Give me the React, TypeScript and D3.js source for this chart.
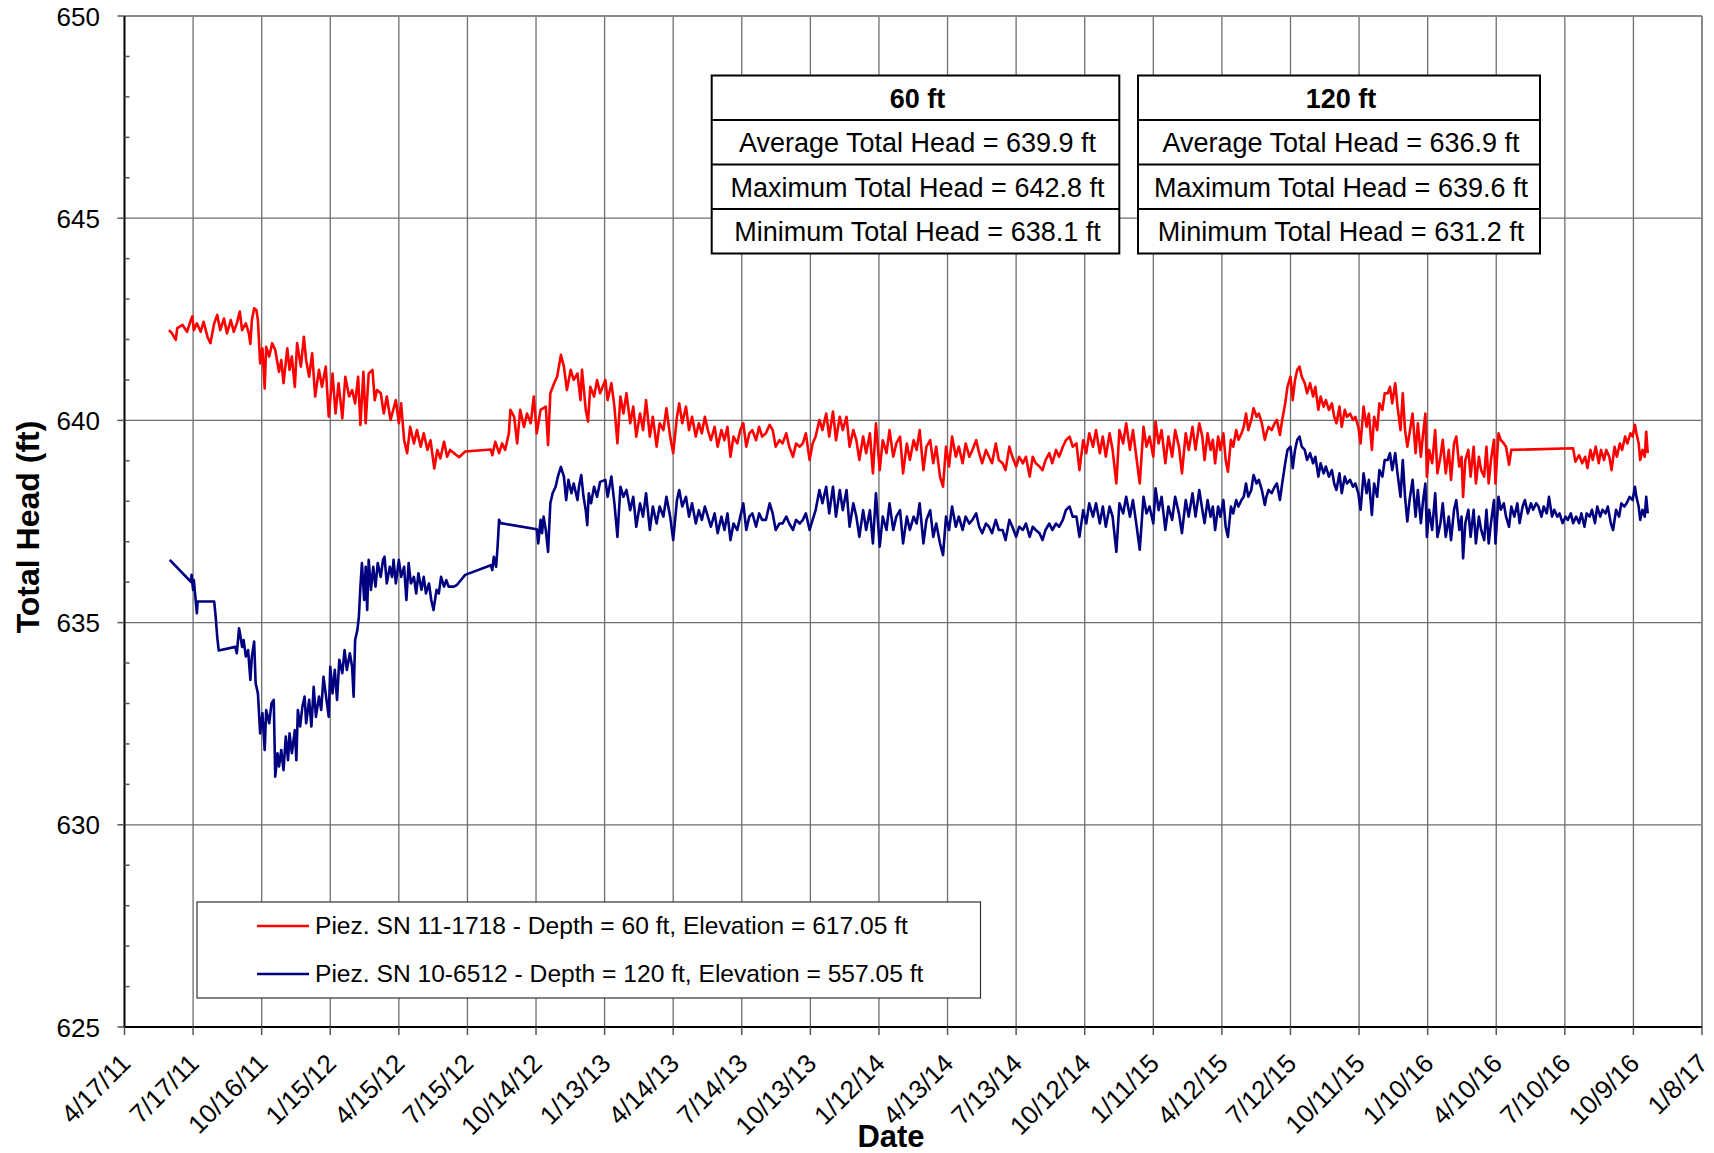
import React from "react";
import * as d3 from "d3";

// ---------- DATA ----------
// Day offsets are counted from 4/17/11 (the first x-axis tick).
const START_DATE = "4/17/11";

const X_TICK_LABELS = ["4/17/11","7/17/11","10/16/11","1/15/12","4/15/12","7/15/12","10/14/12","1/13/13","4/14/13","7/14/13","10/13/13","1/12/14","4/13/14","7/13/14","10/12/14","1/11/15","4/12/15","7/12/15","10/11/15","1/10/16","4/10/16","7/10/16","10/9/16","1/8/17"];
const Y_TICKS = [625, 630, 635, 640, 645, 650];
const Y_DOMAIN: [number, number] = [625, 650];

// Piez. SN 11-1718 (60 ft): [day offset, total head ft]
const piez60: [number, number][] = [
[59,642.23],[63,642.15],[68,641.99],[70,642.28],[77,642.36],[83,642.19],[88,642.48],[90,642.57],[92,642.23],[96,642.40],[101,642.19],[105,642.44],[110,642.07],[114,641.91],[119,642.40],[123,642.61],[127,642.23],[132,642.52],[136,642.15],[141,642.48],[145,642.19],[149,642.40],[153,642.69],[156,642.23],[161,642.40],[165,642.15],[167,641.89],[169,642.48],[172,642.77],[175,642.73],[177,642.48],[180,641.41],[183,641.78],[186,640.79],[188,641.82],[192,641.58],[196,641.91],[200,641.74],[205,641.20],[208,641.49],[211,640.92],[216,641.78],[219,641.25],[222,641.58],[226,640.83],[229,641.91],[234,641.33],[238,642.07],[241,641.49],[245,641.08],[249,641.66],[253,640.59],[258,641.25],[262,640.83],[267,641.33],[271,640.09],[276,641.16],[280,640.17],[284,640.92],[289,640.05],[293,641.08],[298,640.59],[302,640.75],[306,640.42],[310,641.08],[313,639.89],[317,641.20],[320,639.93],[324,641.16],[329,641.25],[332,640.50],[335,640.75],[340,640.67],[344,640.17],[348,640.59],[353,640.01],[360,640.50],[364,639.93],[367,640.42],[371,639.51],[375,639.19],[379,639.84],[384,639.43],[388,639.76],[393,639.35],[397,639.68],[402,639.27],[406,639.51],[411,638.81],[415,639.27],[419,639.06],[424,639.47],[428,639.10],[432,639.27],[444,639.09],[452,639.23],[486,639.28],[488,639.14],[492,639.47],[497,639.19],[501,639.43],[505,639.27],[510,639.68],[512,640.26],[517,640.09],[521,639.43],[525,640.26],[530,639.84],[534,640.17],[539,639.93],[543,640.59],[547,639.68],[552,640.26],[559,640.34],[562,639.39],[565,640.67],[570,640.92],[574,641.08],[579,641.62],[583,641.33],[587,640.75],[592,641.25],[596,641.00],[601,641.16],[605,640.50],[607,641.25],[612,640.26],[615,639.97],[618,640.83],[623,640.59],[627,641.00],[631,640.67],
[638,641.00],[641,640.50],[646,640.92],[650,640.34],[654,639.43],[658,640.59],[662,640.17],[666,640.67],[671,639.93],[675,640.34],[679,639.60],[684,640.17],[688,639.76],[692,640.50],[697,639.60],[701,640.09],[706,639.35],[710,639.93],[715,639.76],[719,640.30],[724,639.60],[728,639.19],[733,640.09],[736,640.42],[740,639.93],[745,640.34],[749,639.76],[753,640.09],[758,639.60],[762,639.93],[766,639.68],[770,640.09],[774,639.76],[778,639.51],[783,639.84],[787,639.35],[792,639.76],[796,639.51],[800,639.84],[804,639.10],[808,639.60],[813,639.43],[817,639.76],[821,639.93],[825,639.35],[829,639.68],[833,639.76],[838,639.51],[842,639.84],[846,639.60],[851,639.68],[856,639.89],[860,639.76],[864,639.35],[869,639.51],[873,639.43],[878,639.68],[882,639.35],[887,639.10],[891,639.43],[896,639.35],[900,639.43],[904,639.68],[909,639.02],[913,639.43],[917,639.60],[922,640.01],[926,639.76],[931,640.17],[935,639.60],[940,640.22],[944,639.51],[949,640.09],[953,639.76],[958,640.09],[962,639.35],[967,639.76],[971,639.51],[975,639.02],[980,639.60],[984,639.19],[989,639.68],[993,638.69],[997,639.93],[1002,638.77],[1006,639.51],[1011,639.19],[1015,639.76],[1020,639.10],[1024,639.43],[1029,639.60],[1033,638.69],[1038,639.43],[1042,639.02],[1047,639.51],[1051,639.27],[1055,639.76],[1060,638.77],[1064,639.35],[1069,639.51],[1073,638.94],[1077,639.35],[1082,638.61],[1086,638.36],[1090,639.35],[1094,638.86],[1098,639.60],[1103,639.10],[1107,639.35],[1112,638.94],[1116,639.43],[1121,639.10],[1125,639.27],[1130,639.51],[1134,639.19],[1138,638.94],[1143,639.27],[1147,639.10],[1151,638.94],[1156,639.43],[1160,639.02],[1165,638.94],[1169,638.77],[1174,639.35],[1178,639.10],[1183,638.86],[1187,639.10],[1192,638.94],[1196,639.10],[1201,638.61],[1205,639.10],[1209,638.94],[1214,638.86],[1218,638.77],[1222,639.02],[1227,639.19],[1231,638.94],[1236,639.27],[1240,639.10],[1245,639.35],[1249,639.51],[1254,639.60],[1258,639.35],[1263,639.43],[1267,638.77],[1272,639.51],[1276,639.19],[1280,639.68],[1285,639.35],[1289,639.76],[1294,639.19],[1298,639.60],[1302,639.10],[1307,639.68],[1311,639.27],[1316,638.44],[1320,639.76],[1325,639.43],[1329,639.93],[1334,639.27],[1338,639.76],[1343,639.02],[1347,638.44],[1352,639.84],[1356,639.35],[1360,639.60],[1365,639.10],[1368,639.97],[1372,639.43],[1376,639.76],[1381,638.94],[1385,639.60],[1390,639.10],[1394,639.76],[1399,639.35],[1403,638.69],[1408,639.68],[1412,639.27],[1417,639.84],[1421,639.27],[1426,639.93],
[1430,639.60],[1433,639.02],[1437,639.68],[1441,639.27],[1444,639.52],[1447,638.94],[1451,639.60],[1454,639.27],[1458,639.68],[1461,639.02],[1464,638.73],[1468,639.52],[1471,639.35],[1475,639.76],[1478,639.52],[1482,639.68],[1485,639.84],[1488,640.17],[1491,639.76],[1495,640.01],[1498,640.30],[1502,640.09],[1505,640.17],[1509,639.93],[1513,639.52],[1515,639.68],[1518,639.84],[1522,639.76],[1526,639.93],[1529,640.01],[1533,639.64],[1536,640.01],[1540,640.42],[1543,640.83],[1547,641.08],[1550,640.50],[1553,641.00],[1556,641.25],[1559,641.33],[1562,641.08],[1566,640.92],[1569,640.67],[1573,640.92],[1577,640.59],[1580,640.83],[1584,640.26],[1587,640.59],[1591,640.34],[1594,640.50],[1598,640.26],[1602,640.42],[1605,640.09],[1608,639.93],[1612,640.34],[1615,639.84],[1619,640.26],[1622,640.09],[1626,640.17],[1630,640.01],[1633,640.09],[1637,639.84],[1640,639.43],[1644,640.34],[1648,639.84],[1651,640.17],[1655,639.27],[1658,640.09],[1662,639.76],[1665,640.42],[1669,640.26],[1672,640.67],[1676,640.67],[1679,640.83],[1682,640.42],[1686,640.92],[1689,640.34],[1693,639.76],[1696,640.67],[1699,639.76],[1702,639.35],[1705,639.68],[1709,640.17],[1713,639.19],[1716,639.93],[1720,639.10],[1723,639.68],[1726,640.17],[1728,638.61],[1731,639.27],[1735,638.94],[1739,639.76],[1742,638.69],[1746,639.10],[1749,639.52],[1753,638.69],[1757,639.27],[1760,638.53],[1764,639.43],[1767,639.60],[1771,638.86],[1774,639.10],[1776,638.11],[1779,639.02],[1783,639.27],[1786,638.61],[1790,639.35],[1793,638.44],[1797,639.10],[1800,638.77],[1804,638.61],[1807,639.35],[1810,638.44],[1813,639.02],[1817,639.52],[1819,638.44],[1823,639.68],[1826,639.52],[1830,639.43],[1833,639.35],[1837,638.90],[1840,639.27],[1922,639.31],[1925,638.98],[1930,639.14],[1934,638.94],[1938,639.10],[1941,638.82],[1945,639.27],[1948,639.02],[1952,639.35],[1956,638.94],[1959,639.27],[1963,639.02],[1966,639.27],[1970,639.10],[1973,638.77],[1977,639.35],[1980,639.10],[1984,639.43],[1987,639.27],[1991,639.60],[1994,639.43],[1998,639.68],[2001,639.60],[2004,639.89],[2006,639.68],[2009,639.43],[2011,639.02],[2014,639.27],[2017,639.10],[2019,639.72],[2021,639.19]
];

// Piez. SN 10-6512 (120 ft): [day offset, total head ft]
const piez120: [number, number][] = [
[60,636.55],[88,636.01],[89,636.18],[91,635.81],[92,636.05],[94,635.64],[96,635.23],[97,635.52],[119,635.52],[121,635.15],[123,634.65],[125,634.31],[147,634.40],[149,634.24],[152,634.86],[154,634.65],[156,634.40],[158,634.57],[161,634.16],[164,634.32],[167,633.58],[169,634.16],[172,634.53],[174,633.50],[177,633.25],[180,632.26],[183,632.76],[186,631.85],[188,632.84],[192,632.51],[195,633.00],[198,633.09],[200,631.19],[203,631.77],[205,631.44],[208,631.85],[211,631.35],[214,632.18],[217,631.60],[219,632.26],[222,631.77],[226,632.34],[228,631.60],[230,632.84],[233,632.43],[236,632.92],[239,633.17],[241,632.51],[245,633.09],[248,632.43],[251,633.41],[254,632.67],[258,633.17],[261,632.84],[264,633.66],[268,633.09],[271,632.67],[273,633.91],[276,633.25],[279,633.83],[282,633.09],[285,634.08],[289,633.75],[292,634.32],[295,633.83],[299,634.24],[302,633.91],[304,633.17],[306,634.57],[309,634.82],[311,635.15],[313,635.89],[315,636.47],[318,635.56],[320,636.38],[322,635.31],[324,636.55],[327,635.81],[330,636.38],[333,635.89],[336,636.47],[340,636.13],[343,636.55],[345,636.63],[348,635.97],[352,636.38],[355,636.13],[357,636.55],[360,635.97],[364,636.55],[367,636.13],[371,636.38],[374,635.56],[377,636.47],[380,635.97],[384,636.13],[387,635.72],[390,636.22],[394,635.81],[397,636.13],[400,635.72],[404,635.97],[407,635.56],[410,635.31],[414,635.81],[417,635.72],[420,636.13],[424,635.89],[427,636.05],[430,635.89],[437,635.89],[441,635.93],[452,636.18],[486,636.42],[488,636.30],[490,636.63],[493,636.38],[495,636.88],[497,637.54],[499,637.46],[547,637.31],[549,636.96],[552,637.54],[554,637.21],[556,637.62],[559,637.29],[562,636.75],[565,637.95],[568,638.20],[572,638.36],[575,638.61],[579,638.85],[583,638.61],[586,638.03],[589,638.53],[593,638.20],[596,638.44],[601,638.03],[603,638.36],[606,638.65],[609,638.11],[612,637.78],[614,637.41],[616,638.20],[619,637.95],[623,638.36],[627,638.11],[631,638.48],
[638,638.53],[641,638.11],[646,638.61],[650,637.95],[654,637.12],[658,638.36],[662,638.11],[666,638.28],[671,637.78],[675,638.11],[679,637.37],[684,637.95],[688,637.62],[692,638.20],[697,637.29],[701,637.87],[706,637.45],[710,637.87],[715,637.62],[719,638.11],[724,637.62],[728,637.04],[733,638.03],[736,638.28],[740,637.87],[745,638.11],[749,637.62],[753,637.95],[758,637.45],[762,637.78],[766,637.54],[770,637.87],[774,637.62],[778,637.37],[783,637.70],[787,637.21],[792,637.62],[796,637.29],[800,637.70],[804,637.04],[808,637.45],[813,637.29],[817,637.62],[821,637.95],[825,637.29],[829,637.62],[833,637.70],[838,637.37],[842,637.70],[846,637.54],[851,637.54],[856,637.95],[860,637.70],[864,637.29],[869,637.45],[873,637.45],[878,637.62],[882,637.45],[887,637.29],[891,637.54],[896,637.45],[900,637.54],[904,637.70],[909,637.29],[913,637.54],[917,637.78],[922,638.28],[926,637.95],[931,638.36],[935,637.70],[940,638.36],[944,637.62],[949,638.28],[953,637.78],[958,638.28],[962,637.37],[967,637.95],[971,637.62],[975,637.12],[980,637.78],[984,637.29],[989,637.78],[993,636.96],[997,638.20],[1002,636.88],[1006,637.62],[1011,637.29],[1015,637.95],[1020,637.29],[1024,637.62],[1029,637.78],[1033,636.96],[1038,637.62],[1042,637.29],[1047,637.62],[1051,637.45],[1055,637.95],[1060,636.96],[1064,637.54],[1069,637.78],[1073,637.12],[1077,637.45],[1082,636.96],[1086,636.67],[1090,637.62],[1094,637.29],[1098,637.87],[1103,637.37],[1107,637.62],[1112,637.29],[1116,637.62],[1121,637.45],[1125,637.54],[1130,637.70],[1134,637.37],[1138,637.21],[1143,637.45],[1147,637.37],[1151,637.21],[1156,637.54],[1160,637.29],[1165,637.29],[1169,637.04],[1174,637.54],[1178,637.37],[1183,637.12],[1187,637.37],[1192,637.29],[1196,637.45],[1201,637.12],[1205,637.37],[1209,637.29],[1214,637.21],[1218,637.04],[1222,637.29],[1227,637.45],[1231,637.29],[1236,637.45],[1240,637.37],[1245,637.54],[1249,637.78],[1254,637.87],[1258,637.62],[1263,637.62],[1267,637.12],[1272,637.78],[1276,637.45],[1280,637.95],[1285,637.62],[1289,637.95],[1294,637.45],[1298,637.87],[1302,637.37],[1307,637.87],[1311,637.62],[1316,636.75],[1320,637.95],[1325,637.70],[1329,638.11],[1334,637.62],[1338,638.03],[1343,637.37],[1347,636.80],[1352,638.11],[1356,637.70],[1360,637.87],[1365,637.45],[1368,638.32],[1372,637.78],[1376,638.11],[1381,637.29],[1385,637.87],[1390,637.54],[1394,638.11],[1399,637.70],[1403,637.21],[1408,638.03],[1412,637.62],[1417,638.20],[1421,637.62],[1426,638.28],
[1430,637.79],[1433,637.46],[1437,638.03],[1441,637.62],[1444,637.87],[1447,637.29],[1451,637.87],[1454,637.62],[1458,638.03],[1461,637.37],[1464,637.12],[1468,637.87],[1471,637.70],[1475,638.03],[1478,637.87],[1482,638.03],[1485,638.11],[1488,638.44],[1491,638.11],[1495,638.28],[1498,638.65],[1502,638.44],[1505,638.53],[1509,638.28],[1513,637.91],[1515,638.11],[1518,638.28],[1522,638.20],[1526,638.36],[1529,638.44],[1533,638.03],[1536,638.44],[1540,638.94],[1543,639.27],[1547,639.35],[1550,638.82],[1553,639.27],[1556,639.52],[1559,639.60],[1562,639.35],[1566,639.27],[1569,639.02],[1573,639.19],[1577,638.94],[1580,639.10],[1584,638.61],[1587,638.94],[1591,638.69],[1594,638.86],[1598,638.61],[1602,638.77],[1605,638.44],[1608,638.28],[1612,638.69],[1615,638.20],[1619,638.61],[1622,638.44],[1626,638.53],[1630,638.36],[1633,638.44],[1637,638.20],[1640,637.79],[1644,638.69],[1648,638.20],[1651,638.53],[1655,637.66],[1658,638.44],[1662,638.11],[1665,638.77],[1669,638.61],[1672,639.02],[1676,639.02],[1679,639.19],[1682,638.77],[1686,639.19],[1689,638.69],[1693,638.11],[1696,639.02],[1699,638.11],[1702,637.50],[1705,638.03],[1709,638.53],[1713,637.62],[1716,638.28],[1720,637.46],[1723,638.03],[1726,638.44],[1728,637.12],[1731,637.79],[1735,637.29],[1739,638.20],[1742,637.12],[1746,637.46],[1749,637.95],[1753,637.12],[1757,637.62],[1760,637.04],[1764,637.79],[1767,638.03],[1771,637.29],[1774,637.62],[1776,636.59],[1779,637.46],[1783,637.79],[1786,637.12],[1790,637.79],[1793,636.96],[1797,637.62],[1800,637.29],[1804,637.04],[1807,637.79],[1810,636.96],[1813,637.46],[1817,638.03],[1819,636.96],[1823,638.11],[1826,637.79],[1830,637.95],[1833,637.62],[1837,637.37],[1840,637.87],[1844,637.62],[1848,637.95],[1851,637.46],[1855,637.87],[1858,638.03],[1862,637.70],[1866,637.95],[1869,637.79],[1873,637.95],[1876,637.87],[1880,637.62],[1883,637.87],[1887,637.70],[1890,638.11],[1894,637.62],[1897,637.79],[1901,637.62],[1904,637.70],[1908,637.46],[1912,637.62],[1915,637.54],[1919,637.70],[1922,637.46],[1926,637.62],[1930,637.46],[1933,637.70],[1937,637.37],[1940,637.70],[1944,637.62],[1947,637.79],[1951,637.46],[1954,637.87],[1958,637.62],[1961,637.79],[1965,637.70],[1968,637.87],[1972,637.46],[1975,637.29],[1979,637.79],[1983,637.62],[1986,637.95],[1990,637.87],[1993,637.95],[1997,638.11],[2001,638.03],[2004,638.36],[2006,638.11],[2009,637.87],[2011,637.54],[2014,637.79],[2017,637.62],[2019,638.11],[2021,637.70]
];

const TABLE_60 = ["60 ft", "Average Total Head = 639.9 ft", "Maximum Total Head = 642.8 ft", "Minimum Total Head = 638.1 ft"];
const TABLE_120 = ["120 ft", "Average Total Head = 636.9 ft", "Maximum Total Head = 639.6 ft", "Minimum Total Head = 631.2 ft"];
const LEGEND_LABELS = [
  "Piez. SN 11-1718 - Depth = 60 ft, Elevation = 617.05 ft",
  "Piez. SN 10-6512 - Depth = 120 ft, Elevation = 557.05 ft",
];
const SERIES_COLORS = ["#FF0000", "#000080"];
const Y_TITLE = "Total Head (ft)";
const X_TITLE = "Date";

// ---------- LAYOUT ----------
const W = 1714, H = 1153;
const PL = 124.5, PR = 1702, PT = 16, PB = 1027;
const FONT = "'Liberation Sans', Arial, Helvetica, sans-serif";

const parse = d3.utcParse("%m/%d/%y");
const startMs = (parse(START_DATE) as Date).getTime();
const dayToDate = (d: number) => new Date(startMs + d * 86400000);
const tickDates = X_TICK_LABELS.map((s) => parse(s) as Date);

const x = d3.scaleUtc().domain([tickDates[0], tickDates[tickDates.length - 1]]).range([PL, PR]);
const y = d3.scaleLinear().domain(Y_DOMAIN).range([PB, PT]);

const line = d3.line<[number, number]>()
  .x((d) => x(dayToDate(d[0])))
  .y((d) => y(d[1]));

function Table({ x0, x1, rows }: { x0: number; x1: number; rows: string[] }) {
  const top = 75.5, rh = 44.5;
  const cx = (x0 + x1) / 2 + 2;
  return (
    <g>
      <rect x={x0} y={top} width={x1 - x0} height={rh * rows.length} fill="#fff" stroke="#000" strokeWidth={2} />
      {rows.map((r, i) => (
        <g key={i}>
          {i > 0 && <line x1={x0} x2={x1} y1={top + rh * i} y2={top + rh * i} stroke="#000" strokeWidth={2} />}
          <text x={cx} y={top + rh * i + rh / 2 + 9.8} textAnchor="middle" fontSize={27} fontWeight={i === 0 ? "bold" : "normal"} fontFamily={FONT} fill="#000">{r}</text>
        </g>
      ))}
    </g>
  );
}

export default function App() {
  const minor = d3.range(Y_DOMAIN[0] + 1, Y_DOMAIN[1]).filter((v) => v % 5 !== 0);
  return (
    <svg width={W} height={H} style={{ position: "absolute", left: 0, top: 0, display: "block", background: "#fff" }}>
      <rect x={0} y={0} width={W} height={H} fill="#fff" />
      {/* grid */}
      {Y_TICKS.filter((v) => v !== Y_DOMAIN[0] && v !== Y_DOMAIN[1]).map((v) => (
        <line key={"hg" + v} x1={PL} x2={PR} y1={y(v)} y2={y(v)} stroke="#6e6e6e" strokeWidth={1.3} />
      ))}
      {tickDates.slice(1, -1).map((d, i) => (
        <line key={"vg" + i} x1={x(d)} x2={x(d)} y1={PT} y2={PB} stroke="#6e6e6e" strokeWidth={1.3} />
      ))}
      {/* plot border */}
      <line x1={PL} x2={PR} y1={PT} y2={PT} stroke="#8a8a8a" strokeWidth={2} />
      <line x1={PR} x2={PR} y1={PT} y2={PB} stroke="#8a8a8a" strokeWidth={2} />
      {/* series */}
      <path d={line(piez60) || ""} fill="none" stroke={SERIES_COLORS[0]} strokeWidth={2.6} strokeLinejoin="round" />
      <path d={line(piez120) || ""} fill="none" stroke={SERIES_COLORS[1]} strokeWidth={2.6} strokeLinejoin="round" />
      {/* axes */}
      <line x1={PL} x2={PL} y1={PT} y2={PB + 1} stroke="#000" strokeWidth={2} />
      <line x1={PL - 1} x2={PR} y1={PB} y2={PB} stroke="#000" strokeWidth={2} />
      {Y_TICKS.map((v) => (
        <g key={"yt" + v}>
          <line x1={PL - 7} x2={PL} y1={y(v)} y2={y(v)} stroke="#555" strokeWidth={1.5} />
          <text x={100} y={y(v) + 9.5} textAnchor="end" fontSize={26} fontFamily={FONT} fill="#000">{v}</text>
        </g>
      ))}
      {minor.map((v) => (
        <line key={"ym" + v} x1={PL} x2={PL + 5} y1={y(v)} y2={y(v)} stroke="#555" strokeWidth={1.5} />
      ))}
      {tickDates.map((d, i) => (
        <g key={"xt" + i}>
          <line x1={x(d)} x2={x(d)} y1={PB} y2={PB + 8} stroke="#555" strokeWidth={1.5} />
          <text transform={`translate(${x(d) + 7.5},${1065}) rotate(-45)`} textAnchor="end" fontSize={26} fontFamily={FONT} fill="#000">{X_TICK_LABELS[i]}</text>
        </g>
      ))}
      {/* titles */}
      <text transform={`translate(39,527) rotate(-90)`} textAnchor="middle" fontSize={32} fontWeight="bold" fontFamily={FONT} fill="#000">{Y_TITLE}</text>
      <text x={891} y={1147} textAnchor="middle" fontSize={31} fontWeight="bold" fontFamily={FONT} fill="#000">{X_TITLE}</text>
      {/* tables */}
      <Table x0={711.7} x1={1119.3} rows={TABLE_60} />
      <Table x0={1138} x1={1540} rows={TABLE_120} />
      {/* legend */}
      <rect x={197} y={902} width={783.5} height={96} fill="#fff" stroke="#333" strokeWidth={1.2} />
      {LEGEND_LABELS.map((lab, i) => (
        <g key={"lg" + i}>
          <line x1={257} x2={309} y1={926 + i * 48} y2={926 + i * 48} stroke={SERIES_COLORS[i]} strokeWidth={2.5} />
          <text x={315} y={934 + i * 48} fontSize={24.6} fontFamily={FONT} fill="#000">{lab}</text>
        </g>
      ))}
    </svg>
  );
}
